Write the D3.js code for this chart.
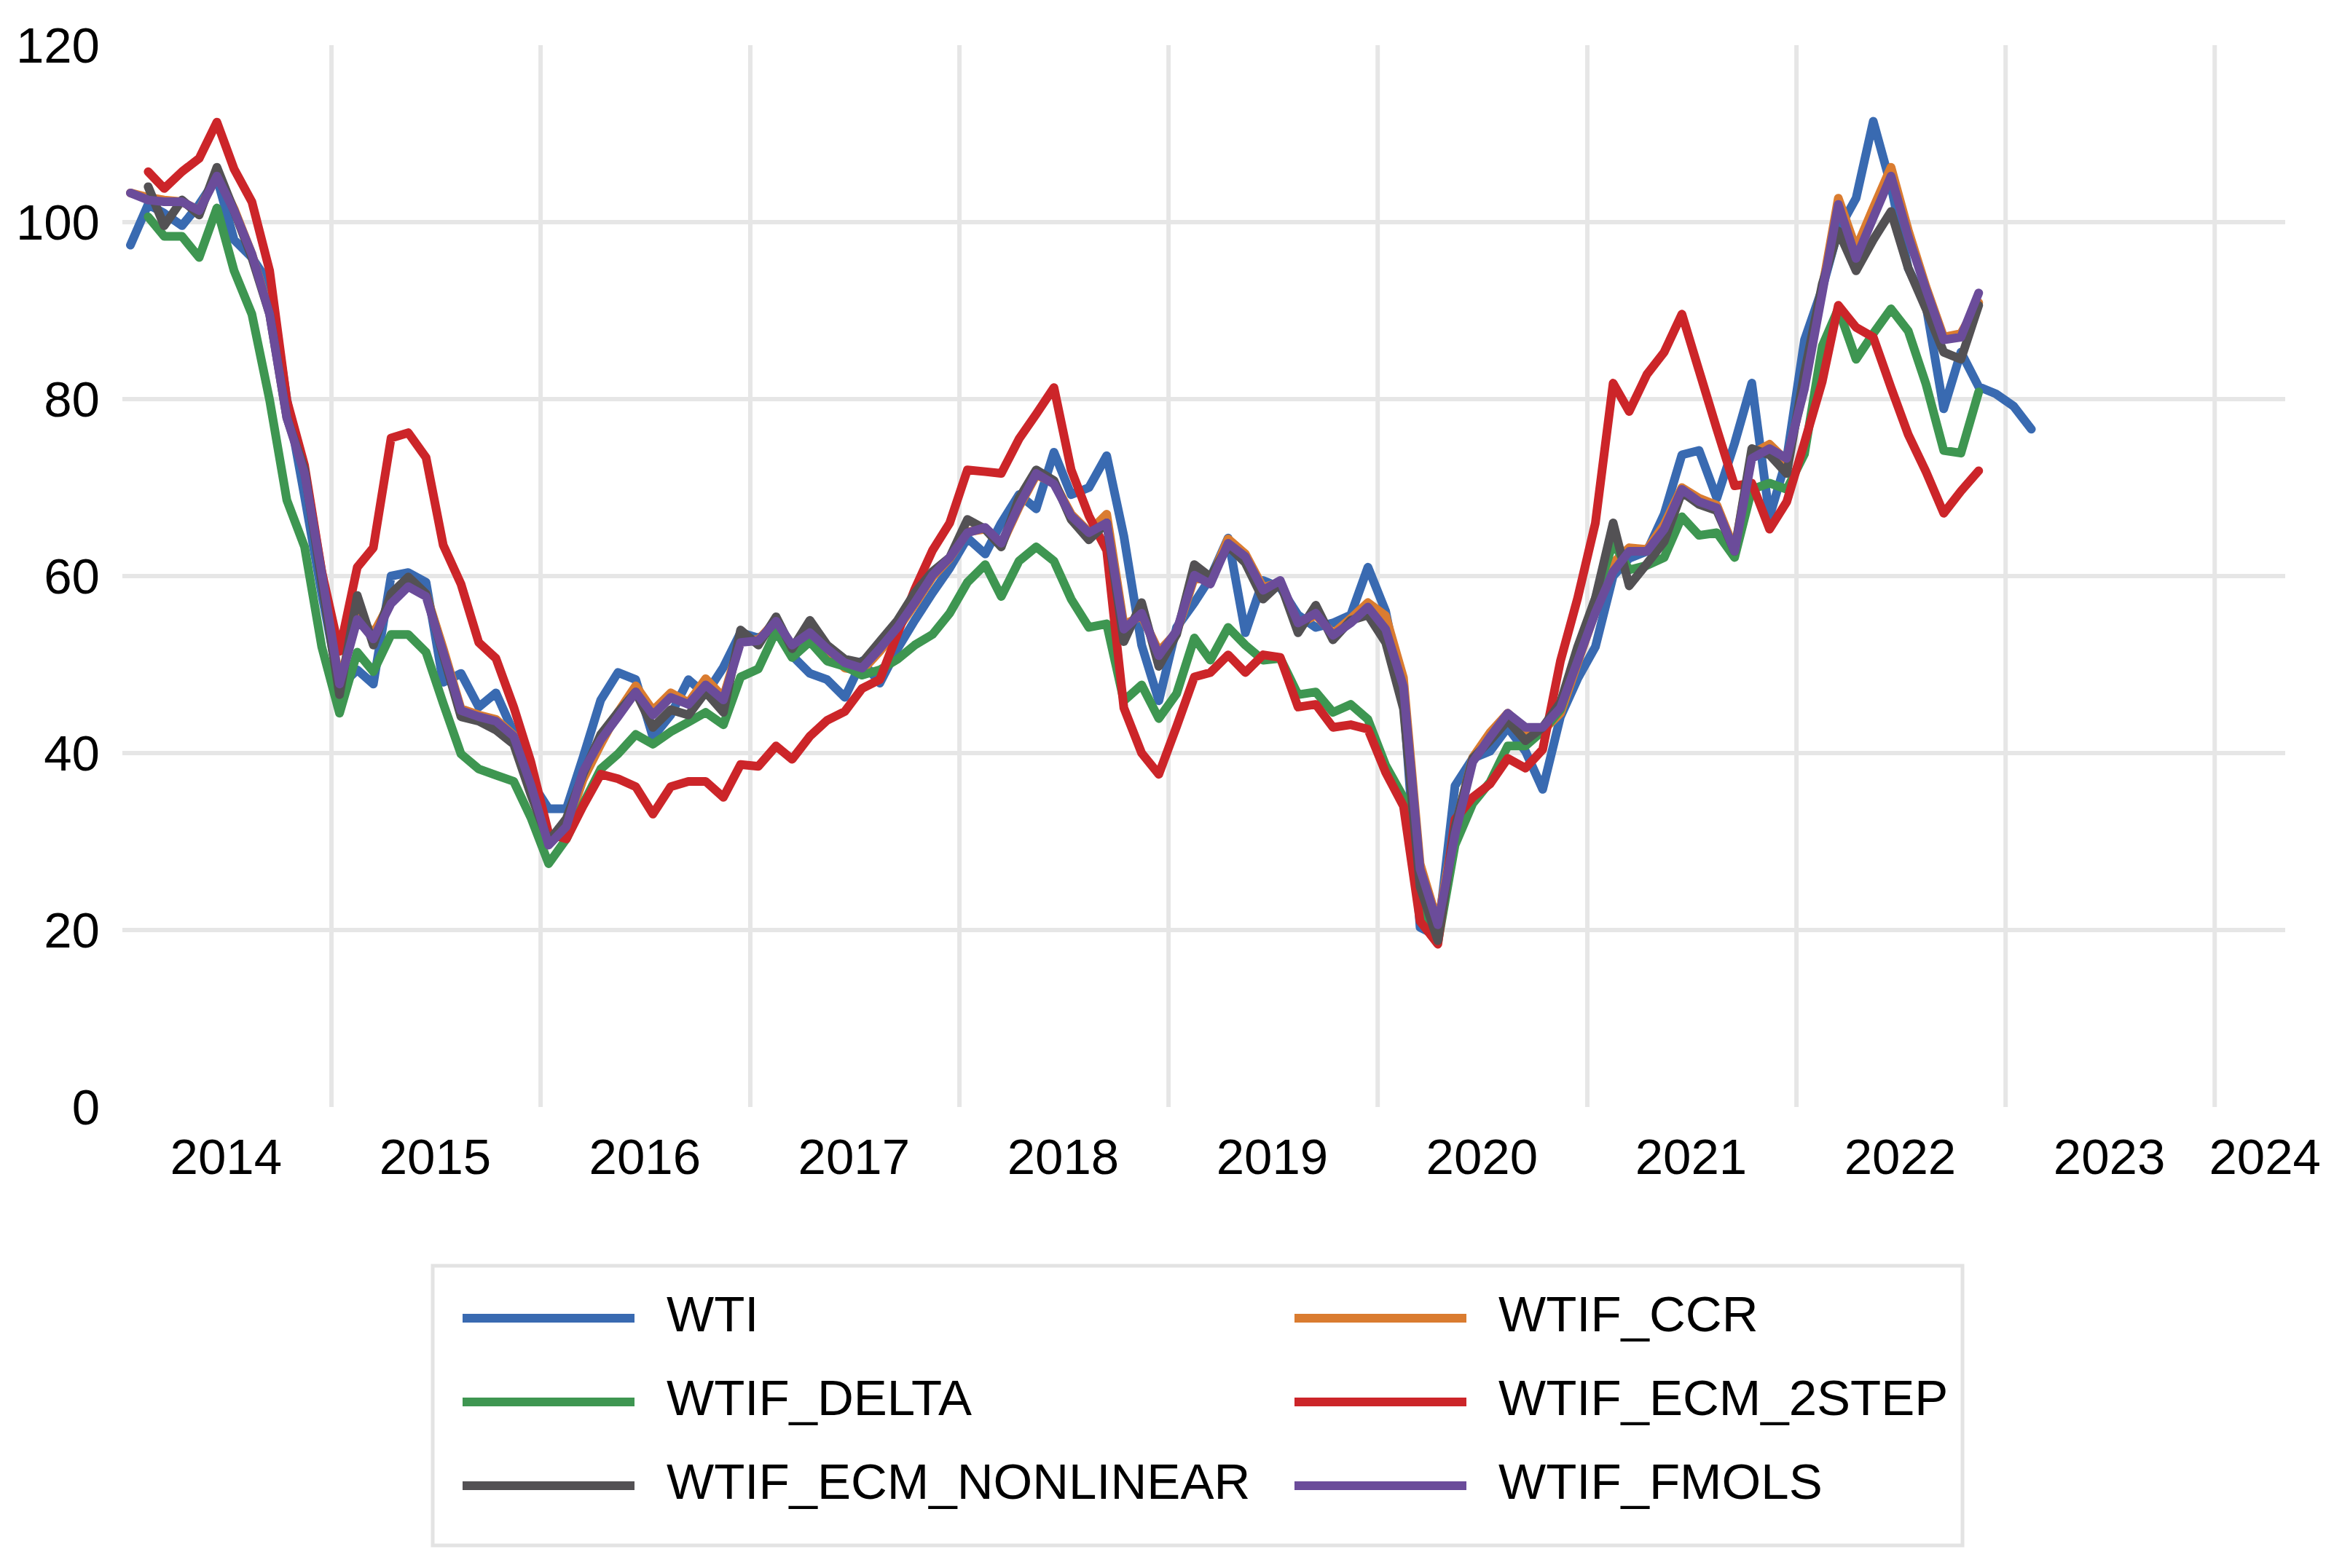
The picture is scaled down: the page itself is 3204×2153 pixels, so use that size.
<!DOCTYPE html>
<html>
<head>
<meta charset="utf-8">
<script src="https://cdn.jsdelivr.net/npm/d3@7"></script>
<style>
  body { margin: 0; background: #fff; }
  text { font-family: "Liberation Sans", Arial, sans-serif; fill: #000; }
</style>
</head>
<body>
<div id="chart"></div>
<script>
// monthly series, first value = Jan 2014
const firstMonth = new Date(2014, 0, 15);
const yTicks = [0, 20, 40, 60, 80, 100, 120];
const yGridTicks = [20, 40, 60, 80, 100];
const yearLabels = [2014, 2015, 2016, 2017, 2018, 2019, 2020, 2021, 2022, 2023, 2024];
const gridYears = [2015, 2016, 2017, 2018, 2019, 2020, 2021, 2022, 2023, 2024];

const seriesNames = ["WTI", "WTIF_CCR", "WTIF_DELTA", "WTIF_ECM_2STEP", "WTIF_ECM_NONLINEAR", "WTIF_FMOLS"];
const seriesColors = ["#396ab1", "#da7c30", "#3e9651", "#cc2529", "#535154", "#6b4c9a"];

const wti = [
  97.4, 102, 101, 99.6, 102, 105, 98, 96, 93, 80, 69, 58,
  47.5, 49.4, 47.8, 60, 60.4, 59.3, 48, 49, 45.2, 46.8, 42.3, 36.8,
  33.7, 33.7, 39.5, 46, 49.1, 48.3, 41.8, 44.3, 48.3, 46.6, 49.7, 53.6,
  53, 54.2, 51, 49, 48.3, 46.3, 50.4, 47.9, 51.8, 55, 58.1, 60.9,
  64.3, 62.5, 66, 69.2, 67.6, 74, 69.2, 70, 73.6, 64.5, 52.2, 45.9,
  54.2, 57, 59.8, 64.3, 53.6, 59.5, 58.7, 55.6, 54.2, 54.7, 55.6, 61,
  56, 46, 20.3, 19.3, 36.3, 39.4, 40.2, 42.9, 40.2, 35.9, 44.1, 48.4,
  52, 60, 62, 62.8, 67, 73.7, 74.2, 68.8, 75, 81.8, 66.7, 73.3,
  86.7, 92.5, 99.1, 102.7, 111.4, 104.1, 94.8, 90.6, 78.9, 85.3, 81.4, 80.6,
  79.2, 76.6
];

const wtifCcr = [
  103.3, 102.8, 102.5, 102.3, 101.3, 105.5, 101.5, 96.4, 89.8, 78.5, 72, 60.5,
  48, 55.5, 53.5, 57.2, 59, 58, 51.8, 45, 44.3, 43.8, 42, 36.6,
  29.8, 31.5, 37, 41, 44.6, 47.6, 44.8, 46.8, 45.7, 48.4, 46.3, 52.8,
  52.8, 55, 52, 53.8, 51.6, 49.6, 49.3, 51.5, 54, 56.8, 59.9, 62,
  65, 65.3, 63.5, 67.8, 71.4, 70.6, 67, 65, 67, 54.5, 55.5, 51.5,
  53.6, 59.8, 59.5, 64.2, 62.5, 58.7, 59.3, 54.5, 55.6, 53.5, 55.2, 57,
  55.5, 48.5, 27.5, 20.8, 31.5, 39.5, 42.3, 44.5, 42.5, 42.5, 44.5, 50.2,
  56, 61.5, 63.2, 63, 65.8, 70, 68.8, 68, 63, 73.8, 74.9, 73,
  81.5, 92.5, 102.7, 97, 101.6, 106.2, 99.1, 92.7, 87, 87.4, 90.9
];

const wtifDelta = [
  null, 100.6, 98.4, 98.4, 96, 101.6, 94.5, 89.6, 79.9, 68.6, 63.3, 52,
  44.5, 51.4, 49.2, 53.4, 53.4, 51.4, 45.6, 39.9, 38.2, 37.5, 36.8, 32.7,
  27.5, 30.3, 34.2, 38.2, 39.9, 42.1, 41, 42.4, 43.5, 44.6, 43.2, 48.6,
  49.5, 53.8, 50.8, 52.6, 50.4, 49.8, 48.8, 49.4, 50.6, 52.2, 53.4, 55.8,
  59.3, 61.3, 57.7, 61.7, 63.3, 61.7, 57.4, 54.2, 54.6, 45.9, 47.7, 43.9,
  46.7, 53, 50.5, 54.2, 52.2, 50.5, 50.7, 46.6, 46.9, 44.6, 45.5, 43.8,
  38.6, 35, 22.2, 18.6, 29.6, 34.3, 36.7, 40.8, 40.8, 42.5, 44.9, 50.8,
  57.5, 63.8, 60.7, 61.2, 62.1, 66.7, 64.6, 64.9, 62.1, 69.8, 70.5, 69.8,
  73.8, 86, 90.2, 84.5, 87.4, 90.2, 87.7, 81.7, 74.2, 73.9, 80.8
];

const wtifEcm2step = [
  null, 105.7, 103.8, 105.7, 107.2, 111.3, 106, 102.3, 94.5, 79.9, 72.5, 60.5,
  51.5, 61, 63.2, 75.6, 76.2, 73.4, 63.5, 59.1, 52.5, 50.7, 45.2, 39,
  30.9, 30.3, 34, 37.6, 37.1, 36.2, 33.1, 36.2, 36.8, 36.8, 35, 38.7,
  38.5, 40.8, 39.3, 41.9, 43.7, 44.7, 47.3, 48.3, 53.5, 58.5, 62.9, 66,
  72, 71.8, 71.6, 75.5, 78.3, 81.3, 72, 66.8, 62.9, 45.1, 40, 37.6,
  43, 48.6, 49.1, 51.1, 49.1, 51.1, 50.8, 45.2, 45.5, 42.9, 43.2, 42.7,
  37.8, 34, 21, 18.4, 32.5, 35, 36.5, 39.4, 38.3, 40.4, 50.4, 57.5,
  66, 81.8, 78.6, 82.8, 85.3, 89.6, 83.2, 76.6, 70.2, 70.5, 65.3, 68.4,
  75.1, 82, 90.6, 88.1, 87, 81.3, 76, 71.8, 67.1, 69.6, 71.9
];

const wtifEcmNonlinear = [
  null, 104, 99.6, 102.5, 100.8, 106.2, 101.3, 96, 89.6, 77.9, 72, 59.3,
  46.6, 57.8, 52.2, 58, 59.9, 58, 51.1, 44.1, 43.6, 42.6, 41, 35.3,
  30, 32.6, 37.6, 42.1, 44.6, 46.9, 42.9, 44.9, 44.3, 46.9, 44.6, 53.9,
  52.2, 55.4, 51.8, 55, 52.2, 50.6, 50.2, 52.6, 55, 58.1, 60.5, 62.1,
  66.4, 65.3, 63.3, 68.8, 72, 70.8, 66.4, 64.1, 66, 52.6, 57, 49.8,
  53.4, 61.3, 59.9, 63.4, 61.5, 57.4, 59.2, 53.6, 56.7, 52.8, 55, 55.6,
  52.5, 45, 24.9, 18.8, 31.6, 39.4, 41.4, 43.7, 41.4, 42.9, 45.7, 52,
  57.5, 66, 58.9, 61.4, 63.9, 69.5, 68.1, 67.4, 62.8, 74.4, 73.7, 71.6,
  83, 93, 99, 94.5, 98, 101.2, 94.8, 90.2, 85.3, 84.5, 90.6
];

const wtifFmols = [
  103.3, 102.5, 102.3, 102.3, 101.3, 105.2, 101.3, 96.4, 89.6, 77.9, 71.6, 60.3,
  47.8, 55.1, 52.9, 56.9, 58.8, 57.7, 51.4, 44.8, 44.1, 43.6, 41.9, 36.4,
  29.6, 31.7, 37.9, 41.5, 44.1, 46.9, 44.3, 46.3, 45.5, 47.7, 46, 52.5,
  52.7, 54.9, 52.2, 53.6, 51.8, 50.2, 49.6, 51.8, 54.2, 57, 60.1, 62.1,
  64.9, 65.5, 63.7, 68, 71.6, 70.4, 66.8, 64.9, 66, 54, 55.8, 51,
  53.8, 60.1, 59.1, 63.7, 62.2, 58.4, 59.5, 54.7, 55.8, 53.3, 54.7, 56.5,
  54, 47.5, 26.9, 20.6, 30.8, 39, 41.8, 44.5, 42.9, 42.9, 45.1, 50.4,
  55.9, 60.5, 62.8, 62.8, 65.3, 69.8, 68.4, 67.7, 62.8, 73.3, 74.4, 73.3,
  81.2, 92, 102, 95.9, 100.5, 105.2, 98.4, 92.4, 86.7, 87, 92
];

const seriesValues = [wti, wtifCcr, wtifDelta, wtifEcm2step, wtifEcmNonlinear, wtifFmols];

class LineChart {
  constructor() {
    this.config = {
      parentElement: "#chart",
      width: 3204,
      height: 2153,
      plot: { left: 168, right: 3137, top: 62, bottom: 1520 },
      fontSize: 69,
    };
    this.initVis();
  }

  initVis() {
    const vis = this;
    const c = vis.config;

    vis.svg = d3.select(c.parentElement)
      .append("svg")
      .attr("width", c.width)
      .attr("height", c.height);

    vis.xScale = d3.scaleTime()
      .domain([new Date(2014, 0, 1), new Date(2024, 4, 3)])
      .range([c.plot.left, c.plot.right]);
    vis.yScale = d3.scaleLinear()
      .domain([0, 120])
      .range([c.plot.bottom, c.plot.top]);

    // gridlines
    vis.svg.append("g")
      .selectAll("line")
      .data(yGridTicks)
      .join("line")
      .attr("x1", c.plot.left)
      .attr("x2", c.plot.right)
      .attr("y1", (d) => vis.yScale(d))
      .attr("y2", (d) => vis.yScale(d))
      .attr("stroke", "#e6e6e6")
      .attr("stroke-width", 6);

    vis.svg.append("g")
      .selectAll("line")
      .data(gridYears)
      .join("line")
      .attr("x1", (d) => vis.xScale(new Date(d, 0, 1)))
      .attr("x2", (d) => vis.xScale(new Date(d, 0, 1)))
      .attr("y1", c.plot.top)
      .attr("y2", c.plot.bottom)
      .attr("stroke", "#e6e6e6")
      .attr("stroke-width", 6);

    // y labels
    vis.svg.append("g")
      .selectAll("text")
      .data(yTicks)
      .join("text")
      .attr("x", 137)
      .attr("y", (d) => vis.yScale(d))
      .attr("dy", "0.35em")
      .attr("text-anchor", "end")
      .style("font-size", c.fontSize + "px")
      .text((d) => d);

    // year labels, centred mid-year, last one pulled inside the frame
    vis.svg.append("g")
      .selectAll("text")
      .data(yearLabels)
      .join("text")
      .attr("y", 1612)
      .attr("text-anchor", "middle")
      .style("font-size", c.fontSize + "px")
      .text((d) => d)
      .each(function (d) {
        const w = this.getComputedTextLength();
        let x = vis.xScale(new Date(d, 6, 1));
        if (x + w / 2 > 3186) x = 3186 - w / 2;
        d3.select(this).attr("x", x);
      });

    vis.line = d3.line()
      .defined((d) => d.value != null)
      .x((d) => vis.xScale(d.date))
      .y((d) => vis.yScale(d.value));

    vis.updateVis();
  }

  updateVis() {
    const vis = this;
    const c = vis.config;

    vis.data = seriesNames.map((name, i) => ({
      name: name,
      color: seriesColors[i],
      values: seriesValues[i].map((v, m) => ({
        date: d3.timeMonth.offset(firstMonth, m),
        value: v,
      })),
    }));

    vis.svg.append("g")
      .selectAll("path")
      .data(vis.data)
      .join("path")
      .attr("d", (d) => vis.line(d.values))
      .attr("fill", "none")
      .attr("stroke", (d) => d.color)
      .attr("stroke-width", 12)
      .attr("stroke-linejoin", "round")
      .attr("stroke-linecap", "round");

    // legend
    const legend = vis.svg.append("g");
    legend.append("rect")
      .attr("x", 594)
      .attr("y", 1738)
      .attr("width", 2100)
      .attr("height", 384)
      .attr("fill", "none")
      .attr("stroke", "#e3e3e3")
      .attr("stroke-width", 5);

    const colX = [635, 1777];
    const rowY = [1810, 1925, 2040];
    const items = legend.selectAll("g")
      .data(vis.data)
      .join("g")
      .attr("transform", (d, i) => `translate(${colX[i % 2]},${rowY[Math.floor(i / 2)]})`);

    items.append("line")
      .attr("x1", 0)
      .attr("x2", 236)
      .attr("stroke", (d) => d.color)
      .attr("stroke-width", 12);

    items.append("text")
      .attr("x", 280)
      .attr("y", 18)
      .style("font-size", c.fontSize + "px")
      .text((d) => d.name);
  }
}

const lineChart = new LineChart();
</script>
</body>
</html>
